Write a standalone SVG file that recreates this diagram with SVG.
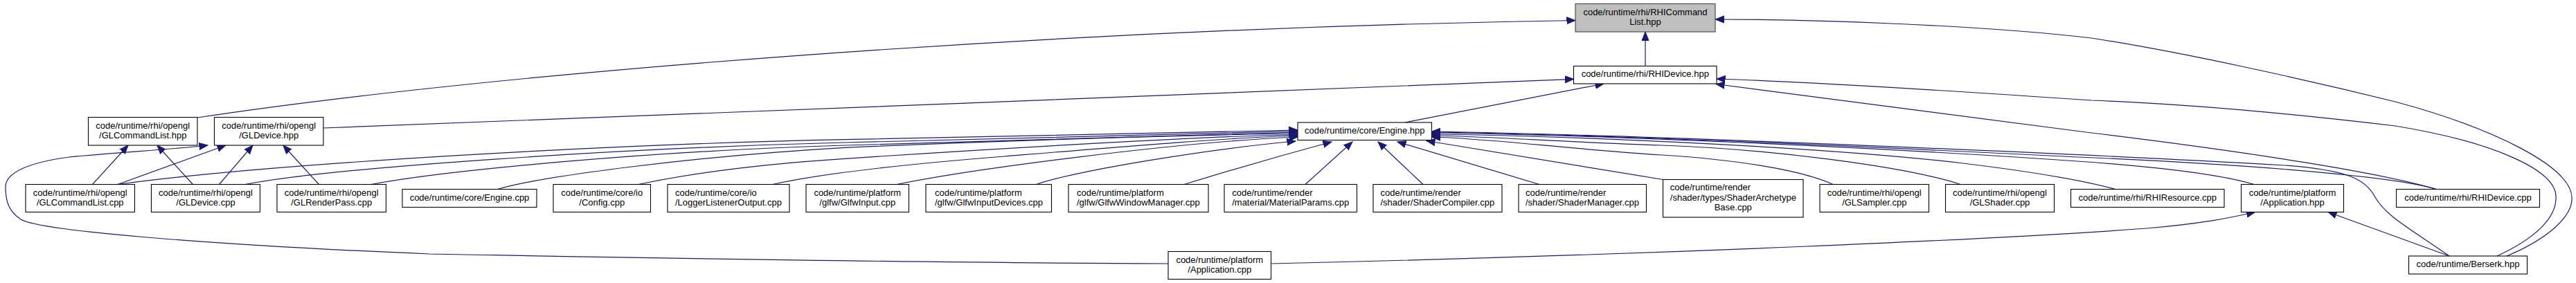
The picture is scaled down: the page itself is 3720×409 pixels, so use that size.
<svg xmlns="http://www.w3.org/2000/svg" width="3720" height="409" viewBox="0 0 3720 409">
<defs>
<marker id="ah" markerUnits="userSpaceOnUse" viewBox="0 -6 14 12" markerWidth="14" markerHeight="12" refX="12.5" refY="0" orient="auto">
<path d="M0,-5 L12.5,0 L0,5 z" fill="#191970" stroke="#191970" stroke-width="1"/>
</marker>
</defs>
<style>
.box{fill:#ffffff;stroke:#000000;stroke-width:1.1}
.root{fill:#bfbfbf;stroke:#404040;stroke-width:1.1}
.t{font-family:"Liberation Sans",Arial,sans-serif;font-size:13px;fill:#000000}
.c{text-anchor:middle}
.l{text-anchor:start}
.e{fill:none;stroke:#191970;stroke-width:1.2;marker-end:url(#ah)}
</style>
<rect x="0" y="0" width="3720" height="409" fill="#ffffff"/>
<g id="edges">
<path class="e" d="M285,170 C700,107 1500,42 2275,29.5"/>
<path class="e" d="M2376,95.5 L2376,46"/>
<path class="e" d="M3620,370 C3680,345 3716,312 3714,285 C3712,240 3600,185 3459,147 C3330,115 3150,75 3020,55 C2850,35 2600,28 2477,28"/>
<path class="e" d="M467,185 C900,170 1800,132 2272.5,114.3"/>
<path class="e" d="M2029,177 L2316,121"/>
<path class="e" d="M3518,273.5 C3440,250 3250,220 3020,192 C2800,165 2600,138 2478,121.5"/>
<path class="e" d="M3606,370 C3660,345 3693,315 3691,283 C3689,245 3600,205 3459,182 C3300,163 3150,150 3020,145 C2800,130 2600,118 2479,114"/>
<path class="e" d="M133.5,266.5 L185,210"/>
<path class="e" d="M278.5,266.5 L227,210"/>
<path class="e" d="M170,266.5 L326,210"/>
<path class="e" d="M316.5,266.5 L365,210"/>
<path class="e" d="M460.5,266.5 L409,210"/>
<path class="e" d="M1687,381 C1300,380 900,372 620,367 C330,355 60,335 30,317 C12,305 8,290 8,270 C8,250 40,235 100,227 C170,220 250,216 300,210"/>
<path class="e" d="M170,266.5 C400,235 900,208 1220,201.7 C1500,195 1750,189 1874,188"/>
<path class="e" d="M354,266.5 C480,242 900,214 1220,206 C1500,199 1750,191 1874,189.5"/>
<path class="e" d="M536,266.5 C650,245 950,218 1220,210 C1500,202 1750,193 1874,191"/>
<path class="e" d="M718.5,273.5 C780,255 1000,226 1220,213.3 C1500,201 1750,194.5 1874,193"/>
<path class="e" d="M922,266.5 C1000,250 1100,237 1220,229.3 C1450,214 1750,196.5 1874,194.5"/>
<path class="e" d="M1116,266.5 C1180,252 1300,238 1450,226 C1620,212 1780,198.5 1874,196"/>
<path class="e" d="M1295,266.5 C1400,245 1700,205 1874,198"/>
<path class="e" d="M1496.5,266.5 C1560,245 1750,215 1871,204"/>
<path class="e" d="M1710,266.5 C1780,245 1860,222 1923,205"/>
<path class="e" d="M1885,266.5 L1953,205"/>
<path class="e" d="M2055,266.5 L1990,205"/>
<path class="e" d="M2223,266.5 L2018,205"/>
<path class="e" d="M2401.5,259.5 L2060,203.5"/>
<path class="e" d="M2647,266.5 C2600,245 2500,230 2400,224 C2250,214 2150,200 2067.5,198"/>
<path class="e" d="M2831,266.5 C2750,240 2550,215 2400,210 C2250,205 2150,197 2067.5,196"/>
<path class="e" d="M3055,273.5 C3020,264 2950,250 2835,236 C2650,214 2300,197 2067.5,194"/>
<path class="e" d="M3255,266.5 C3200,250 3100,240 3000,233 C2700,212 2300,195 2067.5,192"/>
<path class="e" d="M3518,273.5 C3470,258 3300,240 3000,227 C2700,212 2300,194 2067.5,191"/>
<path class="e" d="M3537,370 C3480,330 3445,312 3430,285 C3415,258 3390,246 3300,239 C3000,222 2400,196 2067.5,190"/>
<path class="e" d="M1835.5,381 C2400,368 2900,345 3100,330 C3180,323 3220,315 3256.5,306.5"/>
<path class="e" d="M3537,370 L3362,306.5"/>
</g>
<g id="n_rhicmd"><rect class="root" x="2275" y="5.5" width="202" height="40.5"/><text class="t c" x="2376" y="22.25">code/runtime/rhi/RHICommand</text><text class="t c" x="2376" y="36.25">List.hpp</text></g>
<g id="n_rhidevhpp"><rect class="box" x="2272.5" y="95.5" width="206.5" height="25.5"/><text class="t c" x="2375.75" y="111.25">code/runtime/rhi/RHIDevice.hpp</text></g>
<g id="n_glcmdhpp"><rect class="box" x="127.5" y="169.5" width="157.5" height="40.5"/><text class="t c" x="206.25" y="186.25">code/runtime/rhi/opengl</text><text class="t c" x="206.25" y="200.25">/GLCommandList.hpp</text></g>
<g id="n_gldevhpp"><rect class="box" x="309.5" y="169.5" width="157.5" height="40.5"/><text class="t c" x="388.25" y="186.25">code/runtime/rhi/opengl</text><text class="t c" x="388.25" y="200.25">/GLDevice.hpp</text></g>
<g id="n_enginehpp"><rect class="box" x="1874" y="177" width="193.5" height="25.5"/><text class="t c" x="1970.75" y="192.75">code/runtime/core/Engine.hpp</text></g>
<g id="n_glcmdcpp"><rect class="box" x="37" y="266.5" width="157.5" height="40"/><text class="t c" x="115.75" y="283">code/runtime/rhi/opengl</text><text class="t c" x="115.75" y="297">/GLCommandList.cpp</text></g>
<g id="n_gldevcpp"><rect class="box" x="218.5" y="266.5" width="157" height="40"/><text class="t c" x="297" y="283">code/runtime/rhi/opengl</text><text class="t c" x="297" y="297">/GLDevice.cpp</text></g>
<g id="n_glrp"><rect class="box" x="400" y="266.5" width="157.5" height="40"/><text class="t c" x="478.75" y="283">code/runtime/rhi/opengl</text><text class="t c" x="478.75" y="297">/GLRenderPass.cpp</text></g>
<g id="n_enginecpp"><rect class="box" x="581" y="273.5" width="194" height="26"/><text class="t c" x="678" y="289.5">code/runtime/core/Engine.cpp</text></g>
<g id="n_config"><rect class="box" x="799" y="266.5" width="140.5" height="40"/><text class="t c" x="869.25" y="283">code/runtime/core/io</text><text class="t c" x="869.25" y="297">/Config.cpp</text></g>
<g id="n_logger"><rect class="box" x="964" y="266.5" width="176" height="40"/><text class="t l" x="975" y="283">code/runtime/core/io</text><text class="t l" x="975" y="297">/LoggerListenerOutput.cpp</text></g>
<g id="n_glfwinput"><rect class="box" x="1164" y="266.5" width="148.5" height="40"/><text class="t c" x="1238.25" y="283">code/runtime/platform</text><text class="t c" x="1238.25" y="297">/glfw/GlfwInput.cpp</text></g>
<g id="n_glfwdev"><rect class="box" x="1337" y="266.5" width="181.5" height="40"/><text class="t l" x="1350" y="283">code/runtime/platform</text><text class="t l" x="1350" y="297">/glfw/GlfwInputDevices.cpp</text></g>
<g id="n_glfwwin"><rect class="box" x="1543" y="266.5" width="202" height="40"/><text class="t l" x="1555" y="283">code/runtime/platform</text><text class="t l" x="1555" y="297">/glfw/GlfwWindowManager.cpp</text></g>
<g id="n_matparams"><rect class="box" x="1768" y="266.5" width="191.5" height="40"/><text class="t l" x="1779.2" y="283">code/runtime/render</text><text class="t l" x="1779.2" y="297">/material/MaterialParams.cpp</text></g>
<g id="n_shcomp"><rect class="box" x="1983" y="266.5" width="186" height="40"/><text class="t l" x="1993.5" y="283">code/runtime/render</text><text class="t l" x="1993.5" y="297">/shader/ShaderCompiler.cpp</text></g>
<g id="n_shmgr"><rect class="box" x="2193" y="266.5" width="184.5" height="40"/><text class="t l" x="2203" y="283">code/runtime/render</text><text class="t l" x="2203" y="297">/shader/ShaderManager.cpp</text></g>
<g id="n_sharch"><rect class="box" x="2401.5" y="259.5" width="202.5" height="54.5"/><text class="t l" x="2411.8" y="275">code/runtime/render</text><text class="t l" x="2411.8" y="289.5">/shader/types/ShaderArchetype</text><text class="t c" x="2502.75" y="304">Base.cpp</text></g>
<g id="n_glsampler"><rect class="box" x="2628" y="266.5" width="157.5" height="40"/><text class="t c" x="2706.75" y="283">code/runtime/rhi/opengl</text><text class="t c" x="2706.75" y="297">/GLSampler.cpp</text></g>
<g id="n_glshader"><rect class="box" x="2809.5" y="266.5" width="157" height="40"/><text class="t c" x="2888" y="283">code/runtime/rhi/opengl</text><text class="t c" x="2888" y="297">/GLShader.cpp</text></g>
<g id="n_rhires"><rect class="box" x="2990.5" y="273.5" width="221.5" height="26"/><text class="t c" x="3101.25" y="289.5">code/runtime/rhi/RHIResource.cpp</text></g>
<g id="n_apphpp"><rect class="box" x="3236.5" y="266.5" width="148" height="40"/><text class="t c" x="3310.5" y="283">code/runtime/platform</text><text class="t c" x="3310.5" y="297">/Application.hpp</text></g>
<g id="n_rhidevcpp"><rect class="box" x="3460.5" y="273.5" width="207" height="26"/><text class="t c" x="3564" y="289.5">code/runtime/rhi/RHIDevice.cpp</text></g>
<g id="n_appcpp"><rect class="box" x="1687" y="363.5" width="148.5" height="40"/><text class="t c" x="1761.25" y="380">code/runtime/platform</text><text class="t c" x="1761.25" y="394">/Application.cpp</text></g>
<g id="n_berserk"><rect class="box" x="3478.5" y="370" width="171" height="26"/><text class="t c" x="3564" y="386">code/runtime/Berserk.hpp</text></g>
</svg>
